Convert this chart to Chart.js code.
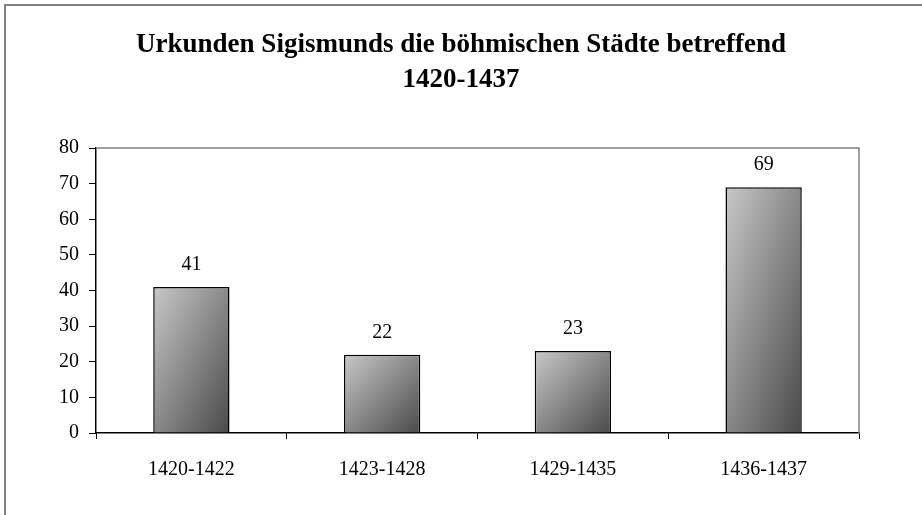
<!DOCTYPE html>
<html>
<head>
<meta charset="utf-8">
<script src="https://cdn.jsdelivr.net/npm/chart.js@4"></script>
<style>
  html, body { margin: 0; padding: 0; background: #fff; }
  #wrap { width: 922px; height: 515px; }
</style>
</head>
<body>
<div id="wrap"><canvas id="chart" width="922" height="515"></canvas></div>
<script>
const titleLines = ['Urkunden Sigismunds die böhmischen Städte betreffend', '1420-1437'];
const periods = ['1420-1422', '1423-1428', '1429-1435', '1436-1437'];
const counts = [41, 22, 23, 69];
const yTicks = [0, 10, 20, 30, 40, 50, 60, 70, 80];

const serif = '"Liberation Serif", "Times New Roman", serif';

// diagonal gradient like the office fill: light top-left, dark bottom-right,
// isolines running corner to corner of the bar
function barFill(ctx) {
  const chart = ctx.chart;
  const xs = chart.scales.x, ys = chart.scales.y;
  if (!xs || !ys || ctx.type !== 'data') return '#888';
  const cx = xs.getPixelForValue(ctx.dataIndex);
  const w = (xs.width / periods.length) * 0.4;
  const top = ys.getPixelForValue(ctx.parsed.y);
  const bottom = ys.getPixelForValue(0);
  const h = bottom - top;
  if (![cx, w, top, bottom].every(Number.isFinite) || w <= 0 || h <= 0) return '#888';
  const t = 2 * w * h / (w * w + h * h);
  const x0 = cx - w / 2;
  const g = chart.ctx.createLinearGradient(x0, top, x0 + t * h, top + t * w);
  g.addColorStop(0, '#c8c8c8');
  g.addColorStop(1, '#4a4a4a');
  return g;
}

const decor = {
  id: 'decor',
  afterDraw(chart) {
    const c = chart.ctx;
    const a = chart.chartArea;
    c.save();
    // outer frame (only top and left show in the picture)
    c.strokeStyle = '#808080';
    c.lineWidth = 2;
    c.beginPath();
    c.moveTo(5, 515);
    c.lineTo(5, 5);
    c.lineTo(922, 5);
    c.stroke();
    // plot area box top/right
    c.lineWidth = 1.5;
    c.beginPath();
    c.moveTo(a.left, a.top);
    c.lineTo(a.right, a.top);
    c.lineTo(a.right, a.bottom + 1);
    c.stroke();
    // title
    c.fillStyle = '#000';
    c.textAlign = 'center';
    c.textBaseline = 'alphabetic';
    c.font = 'bold 27px ' + serif;
    c.fillText(titleLines[0], 461, 52);
    c.fillText(titleLines[1], 461, 87);
    // value labels
    c.font = '20px ' + serif;
    chart.getDatasetMeta(0).data.forEach((bar, i) => {
      c.fillText(String(counts[i]), bar.x, bar.y - 17);
    });
    c.restore();
  }
};

const chart = new Chart(document.getElementById('chart'), {
  type: 'bar',
  data: {
    labels: periods,
    datasets: [{
      data: counts,
      backgroundColor: barFill,
      borderColor: '#000',
      borderWidth: 1.5,
      categoryPercentage: 1,
      barPercentage: 0.4
    }]
  },
  options: {
    responsive: false,
    animation: false,
    layout: { padding: { left: 36, right: 63, top: 148, bottom: 32 } },
    plugins: {
      legend: { display: false },
      title: { display: false },
      tooltip: { enabled: false }
    },
    scales: {
      x: {
        offset: true,
        afterFit: s => { s.height = 50; },
        border: { color: '#000', width: 1.5 },
        grid: { offset: true, drawOnChartArea: false, drawTicks: true, tickLength: 6, color: '#000' },
        ticks: { color: '#000', padding: 19, font: { family: serif, size: 20 } }
      },
      y: {
        min: 0,
        max: 80,
        afterFit: s => { s.width = 60; },
        afterBuildTicks: s => { s.ticks = yTicks.map(v => ({ value: v })); },
        border: { color: '#000', width: 1.5 },
        grid: { drawOnChartArea: false, drawTicks: true, tickLength: 7, color: '#000' },
        ticks: { color: '#000', padding: 10, font: { family: serif, size: 20 } }
      }
    }
  },
  plugins: [decor]
});
// re-resolve gradients now that scales have their final size
chart.update();
</script>
</body>
</html>
